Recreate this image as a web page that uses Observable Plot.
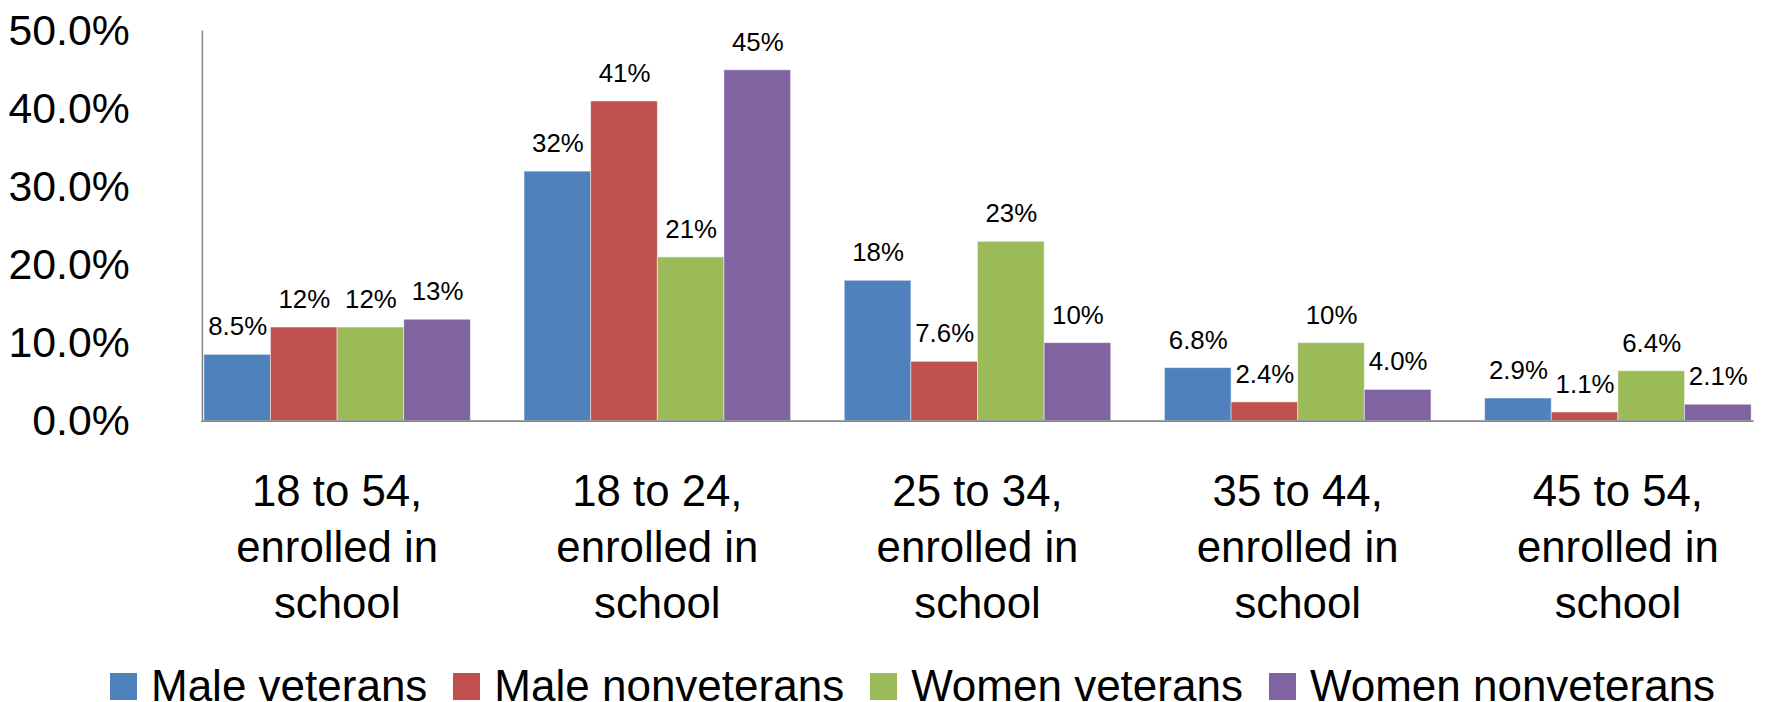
<!DOCTYPE html>
<html>
<head>
<meta charset="utf-8">
<script src="https://cdn.jsdelivr.net/npm/d3@7"></script>
<script src="https://cdn.jsdelivr.net/npm/@observablehq/plot@0.6"></script>
<style>
  html, body { margin: 0; padding: 0; background: #fff; overflow: hidden; }
  body { width: 1779px; height: 702px; position: relative; font-family: "Liberation Sans", Arial, sans-serif; }
  #chart svg { display: block; }
  #legend { position: absolute; left: 0; top: 661px; display: flex; align-items: center; height: 50px; padding-left: 110px; font-size: 44px; color: #000; white-space: nowrap; }
  #legend .item { display: flex; align-items: center; margin-right: 26px; }
  #legend .sw { width: 27px; height: 27px; margin-right: 14px; }
</style>
</head>
<body>
<div id="chart"></div>
<div id="legend"></div>
<script>
const groups = [
  "18 to 54,\nenrolled in\nschool",
  "18 to 24,\nenrolled in\nschool",
  "25 to 34,\nenrolled in\nschool",
  "35 to 44,\nenrolled in\nschool",
  "45 to 54,\nenrolled in\nschool"
];
const series = ["Male veterans", "Male nonveterans", "Women veterans", "Women nonveterans"];
const colors = ["#4F81BD", "#C0504D", "#9BBB59", "#8064A2"];
const maleVeterans      = [8.5, 32, 18, 6.8, 2.9];
const maleNonveterans   = [12, 41, 7.6, 2.4, 1.1];
const womenVeterans     = [12, 21, 23, 10, 6.4];
const womenNonveterans  = [13, 45, 10, 4.0, 2.1];
const yTicks = [0, 10, 20, 30, 40, 50];

const valuesBySeries = [maleVeterans, maleNonveterans, womenVeterans, womenNonveterans];
const data = [];
groups.forEach((g, gi) => {
  series.forEach((s, si) => {
    data.push({group: g, series: s, value: valuesBySeries[si][gi]});
  });
});
const fmt = d3.format(".2r");

const chart = Plot.plot({
  width: 1789,
  height: 660,
  marginLeft: 176,
  marginRight: 0,
  marginTop: 31,
  marginBottom: 237,
  style: {fontFamily: "'Liberation Sans', Arial, sans-serif", background: "#fff", color: "#000"},
  fx: {domain: groups, paddingInner: 0.158, paddingOuter: 0.079, axis: null, label: null},
  x: {domain: series, padding: 0, axis: null, label: null},
  y: {domain: [0, 50], axis: null, label: null},
  color: {domain: series, range: colors},
  marks: [
    Plot.barY(data, {fx: "group", x: "series", y: "value", fill: "series", stroke: "#ffffff", strokeOpacity: 0.45, strokeWidth: 1}),
    Plot.text(data, {fx: "group", x: "series", y: "value", text: d => fmt(d.value) + "%", dy: -28, fontSize: 26, fill: "#000"}),
    Plot.frame({anchor: "bottom", facet: "super", stroke: "#868686", strokeWidth: 2}),
    Plot.frame({anchor: "left", facet: "super", stroke: "#868686", strokeWidth: 1.5}),
    Plot.axisY(yTicks, {tickSize: 0, tickPadding: 73, fill: "#000", fontSize: 43, tickFormat: d => d.toFixed(1) + "%", label: null}),
    Plot.axisFx({anchor: "bottom", tickSize: 0, tickPadding: 45, fontSize: 44, lineHeight: 1.28, label: null, fill: "#000"})
  ]
});
document.getElementById("chart").appendChild(chart);

const legend = document.getElementById("legend");
series.forEach((s, i) => {
  const item = document.createElement("div");
  item.className = "item";
  const sw = document.createElement("span");
  sw.className = "sw";
  sw.style.background = colors[i];
  const label = document.createElement("span");
  label.textContent = s;
  item.appendChild(sw);
  item.appendChild(label);
  legend.appendChild(item);
});
</script>
</body>
</html>
